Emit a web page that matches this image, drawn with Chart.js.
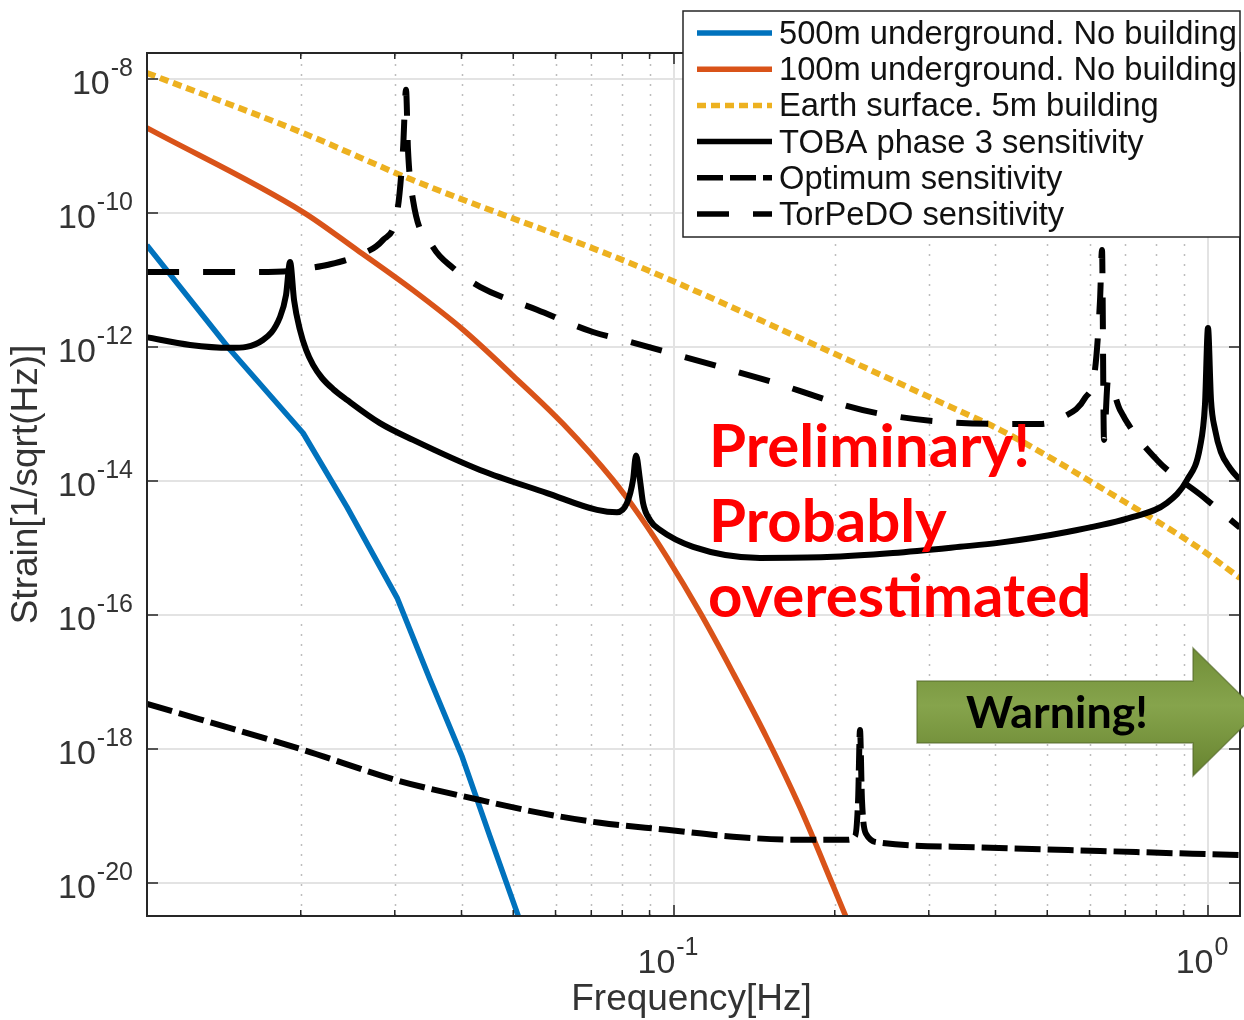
<!DOCTYPE html>
<html>
<head>
<meta charset="utf-8">
<script src="https://cdn.jsdelivr.net/npm/chart.js@4.4.1/dist/chart.umd.min.js"></script>
<style>
  html, body { margin: 0; padding: 0; background: #fff; }
</style>
</head>
<body>
<canvas id="chart" width="1244" height="1020"></canvas>
<script>
// values (Hz, strain 1/sqrt(Hz))
const freq500 = [0.0103, 0.01476, 0.0202, 0.0244, 0.0303, 0.0349, 0.0401, 0.0452, 0.0511, 0.0526];
const strain500 = [3.3e-11, 9.0e-13, 5.2e-14, 4.1e-15, 1.8e-16, 1.1e-17, 7.7e-19, 5.0e-20, 3.2e-21, 1.6e-21];

const freq100 = [0.0103, 0.0202, 0.0255, 0.0324, 0.0403, 0.050, 0.062, 0.0769, 0.0863, 0.097, 0.112, 0.129, 0.149, 0.172, 0.199, 0.2154];
const strain100 = [1.86e-9, 1.03e-10, 2.8e-11, 7.1e-12, 1.8e-12, 3.7e-13, 7.1e-14, 1.03e-14, 3.0e-15, 7.3e-16, 1.07e-16, 1.36e-17, 1.5e-18, 1.36e-19, 8.7e-21, 1.9e-21];

const freqSurface = [0.0103, 0.0202, 0.0324, 0.0863, 0.172, 0.339, 0.408, 0.655, 0.954, 1.148];
const strainSurface = [1.23e-8, 1.56e-9, 3.1e-10, 1.56e-11, 1.36e-12, 1.15e-13, 5.8e-14, 6.6e-15, 1.04e-15, 3.56e-16];

const freqToba = [0.01022, 0.01241, 0.01474, 0.01699, 0.01829, 0.01877, 0.0191, 0.01943, 0.01993, 0.02047,
  0.02109, 0.02192, 0.02298, 0.02441, 0.02814, 0.03245, 0.04332, 0.05784, 0.07176, 0.0782,
  0.08166, 0.0838, 0.08489, 0.08636, 0.0875, 0.0902, 0.09414, 0.1086, 0.1449, 0.1934,
  0.2571, 0.3432, 0.4077, 0.5445, 0.7238, 0.8381, 0.9134, 0.9661, 0.987, 1.0,
  1.013, 1.031, 1.057, 1.099, 1.148];
const strainToba = [1.41e-12, 1.07e-12, 9.7e-13, 1.27e-12, 2.8e-12, 5.97e-12, 1.86e-11, 5.0e-12, 1.8e-12, 9.0e-13,
  5.4e-13, 3.44e-13, 2.36e-13, 1.62e-13, 7.3e-14, 4.1e-14, 1.46e-14, 6.6e-15, 3.7e-15, 3.4e-15,
  4.7e-15, 1.03e-14, 2.4e-14, 1.03e-14, 4.7e-15, 2.6e-15, 1.86e-15, 1.04e-15, 7.1e-16, 7.3e-16,
  8.4e-16, 1.04e-15, 1.2e-15, 1.73e-15, 2.9e-15, 4.7e-15, 1.03e-14, 3.2e-14, 1.36e-13, 1.92e-12,
  1.62e-13, 5.8e-14, 2.7e-14, 1.56e-14, 1.03e-14];

const freqOptimum = [0.01031, 0.0202, 0.0303, 0.0433, 0.0561, 0.0727, 0.0970, 0.1290, 0.1722, 0.2109,
  0.2183, 0.2212, 0.2230, 0.2249, 0.2289, 0.2430, 0.3741, 0.628, 1.148];
const strainOptimum = [4.7e-18, 9.7e-19, 3.4e-19, 1.73e-19, 1.11e-19, 7.9e-20, 6.2e-20, 4.9e-20, 4.4e-20, 4.4e-20,
  5.0e-20, 1.73e-19, 1.92e-18, 1.73e-19, 5.4e-20, 4.0e-20, 3.4e-20, 3.0e-20, 2.6e-20];

const freqTorpedo = [0.01031, 0.01296, 0.01607, 0.0191, 0.02082, 0.02239, 0.02549, 0.02851, 0.03029, 0.03108,
  0.03149, 0.03176, 0.03245, 0.03537, 0.03857, 0.04332, 0.05538, 0.07051, 0.08024, 0.1449,
  0.2399, 0.4077, 0.4847, 0.5354, 0.5884, 0.6142, 0.6278, 0.6332, 0.6386, 0.6497,
  0.6842, 0.8025, 0.9786, 1.148];
const strainTorpedo = [1.31e-11, 1.31e-11, 1.31e-11, 1.36e-11, 1.51e-11, 1.67e-11, 2.28e-11, 3.95e-11, 1.0e-10, 8.7e-10,
  6.9e-9, 8.7e-10, 1.56e-10, 3.1e-11, 1.51e-11, 7.9e-12, 3.6e-12, 1.67e-12, 1.27e-12, 3.4e-13,
  1.03e-13, 7.1e-14, 7.1e-14, 9.0e-14, 1.73e-13, 4.5e-13, 5.0e-12, 2.8e-11, 4.1e-14, 3.2e-13,
  1.15e-13, 2.06e-14, 5.8e-15, 2.0e-15];

const xMajorTicks = [0.1, 1];
const xMinorTicks = [0.02, 0.03, 0.04, 0.05, 0.06, 0.07, 0.08, 0.09, 0.2, 0.3, 0.4, 0.5, 0.6, 0.7, 0.8, 0.9];
const yTicks = [1e-20, 1e-18, 1e-16, 1e-14, 1e-12, 1e-10, 1e-8];

const xMin = 0.010306, xMax = 1.148;
const yMin = 3.21e-21, yMax = 2.44e-8;

const axisColor = '#262626';
const helv = '"Liberation Sans", Arial, Helvetica, sans-serif';

function series(freq, vals) {
  return freq.map((f, i) => ({ x: f, y: vals[i] }));
}

function powLabel(ctx, exp, x, baseY, align) {
  const sup = String(exp);
  ctx.font = '34px ' + helv;
  const wb = ctx.measureText('10').width;
  ctx.font = '25px ' + helv;
  const ws = ctx.measureText(sup).width;
  const total = wb + 1 + ws;
  const left = align === 'right' ? x - total : x - total / 2;
  ctx.textAlign = 'left';
  ctx.textBaseline = 'alphabetic';
  ctx.font = '34px ' + helv;
  ctx.fillText('10', left, baseY);
  ctx.font = '25px ' + helv;
  ctx.fillText(sup, left + wb + 1, baseY - 18);
}

const decor = {
  id: 'decor',
  beforeDatasetsDraw(chart) {
    const { ctx, chartArea: a, scales: { x, y } } = chart;
    ctx.save();
    // minor dotted grid
    ctx.strokeStyle = '#bdbdbd';
    ctx.lineWidth = 1.5;
    ctx.setLineDash([2, 8]);
    xMinorTicks.forEach((v) => {
      const px = Math.round(x.getPixelForValue(v)) + 0.5;
      ctx.beginPath(); ctx.moveTo(px, a.bottom); ctx.lineTo(px, a.top); ctx.stroke();
    });
    ctx.setLineDash([]);
    ctx.strokeStyle = '#e3e3e3';
    ctx.lineWidth = 2;
    xMajorTicks.forEach((v) => {
      const px = Math.round(x.getPixelForValue(v));
      ctx.beginPath(); ctx.moveTo(px, a.bottom); ctx.lineTo(px, a.top); ctx.stroke();
    });
    yTicks.forEach((v) => {
      const py = Math.round(y.getPixelForValue(v));
      ctx.beginPath(); ctx.moveTo(a.left, py); ctx.lineTo(a.right, py); ctx.stroke();
    });
    ctx.restore();
  },
  afterDatasetsDraw(chart) {
    const { ctx, chartArea: a, scales: { x, y } } = chart;
    ctx.save();
    ctx.strokeStyle = axisColor;
    ctx.lineWidth = 2;
    ctx.strokeRect(a.left, a.top, a.right - a.left, a.bottom - a.top);
    ctx.lineWidth = 1.5;
    xMajorTicks.forEach((v) => {
      const px = x.getPixelForValue(v);
      ctx.beginPath();
      ctx.moveTo(px, a.bottom); ctx.lineTo(px, a.bottom - 11);
      ctx.moveTo(px, a.top); ctx.lineTo(px, a.top + 11);
      ctx.stroke();
    });
    xMinorTicks.forEach((v) => {
      const px = x.getPixelForValue(v);
      ctx.beginPath();
      ctx.moveTo(px, a.bottom); ctx.lineTo(px, a.bottom - 6);
      ctx.moveTo(px, a.top); ctx.lineTo(px, a.top + 6);
      ctx.stroke();
    });
    yTicks.forEach((v) => {
      const py = y.getPixelForValue(v);
      ctx.beginPath();
      ctx.moveTo(a.left, py); ctx.lineTo(a.left + 11, py);
      ctx.moveTo(a.right, py); ctx.lineTo(a.right - 11, py);
      ctx.stroke();
    });

    // tick labels
    ctx.fillStyle = '#333';
    yTicks.forEach((v) => {
      const py = y.getPixelForValue(v);
      powLabel(ctx, Math.round(Math.log10(v)), a.left - 14, py + 15, 'right');
    });
    xMajorTicks.forEach((v) => {
      const px = x.getPixelForValue(v);
      powLabel(ctx, Math.round(Math.log10(v)), px - 6, a.bottom + 57, 'center');
    });

    // axis titles
    ctx.font = '37px ' + helv;
    ctx.textAlign = 'center';
    ctx.textBaseline = 'alphabetic';
    ctx.fillText('Frequency[Hz]', (a.left + a.right) / 2 - 2, 1010);
    ctx.save();
    ctx.translate(37, (a.top + a.bottom) / 2);
    ctx.rotate(-Math.PI / 2);
    ctx.fillText('Strain[1/sqrt(Hz)]', 0, 0);
    ctx.restore();
    ctx.restore();
  },
  afterDraw(chart) {
    const { ctx } = chart;
    ctx.save();

    // red note
    ctx.fillStyle = '#ff0000';
    ctx.textAlign = 'left';
    ctx.textBaseline = 'alphabetic';
    ctx.font = 'bold 60px Lato, "Open Sans", sans-serif';
    const w = ctx.measureText('overestimated').width;
    const size = 60 * 383 / w;
    ctx.font = 'bold ' + size.toFixed(1) + 'px Lato, "Open Sans", sans-serif';
    ctx.fillText('Preliminary!', 709, 467);
    ctx.fillText('Probably', 709, 542);
    ctx.fillText('overestimated', 708, 617);

    // warning arrow
    ctx.beginPath();
    ctx.moveTo(917, 681); ctx.lineTo(1193, 681); ctx.lineTo(1193, 648);
    ctx.lineTo(1258, 712); ctx.lineTo(1193, 776); ctx.lineTo(1193, 743);
    ctx.lineTo(917, 743); ctx.closePath();
    const g = ctx.createLinearGradient(0, 648, 0, 776);
    g.addColorStop(0, '#718e38');
    g.addColorStop(0.45, '#86a44c');
    g.addColorStop(1, '#67832f');
    ctx.fillStyle = g;
    ctx.fill();
    ctx.strokeStyle = 'rgba(80,100,40,0.6)';
    ctx.lineWidth = 1.5;
    ctx.stroke();
    ctx.fillStyle = '#000';
    ctx.font = 'bold 60px Lato, "Open Sans", sans-serif';
    const ww = ctx.measureText('Warning!').width;
    ctx.font = 'bold ' + (60 * 182 / ww).toFixed(1) + 'px Lato, "Open Sans", sans-serif';
    ctx.textAlign = 'center';
    ctx.fillText('Warning!', 1057, 728);

    // legend
    ctx.fillStyle = '#fff';
    ctx.fillRect(683, 11, 557, 226);
    ctx.strokeStyle = axisColor;
    ctx.lineWidth = 1.5;
    ctx.strokeRect(683, 11, 557, 226);
    ctx.textAlign = 'left';
    ctx.font = '32.7px ' + helv;
    chart.data.datasets.forEach((ds, i) => {
      const cy = 33 + i * 36.2;
      ctx.strokeStyle = ds.borderColor;
      ctx.lineWidth = Math.min(ds.borderWidth, 5.5);
      ctx.setLineDash(ds.borderDash || []);
      ctx.beginPath(); ctx.moveTo(697, cy); ctx.lineTo(772, cy); ctx.stroke();
      ctx.setLineDash([]);
      ctx.fillStyle = '#111';
      ctx.fillText(ds.label, 779, cy + 11);
    });
    ctx.restore();
  },
};

new Chart(document.getElementById('chart'), {
  type: 'line',
  data: {
    datasets: [
      { label: '500m underground. No building', data: series(freq500, strain500),
        borderColor: '#0072BD', borderWidth: 5.5, tension: 0, order: 6 },
      { label: '100m underground. No building', data: series(freq100, strain100),
        borderColor: '#D95319', borderWidth: 5.5, cubicInterpolationMode: 'monotone', order: 5 },
      { label: 'Earth surface. 5m building', data: series(freqSurface, strainSurface),
        borderColor: '#EDB120', borderWidth: 6, borderDash: [9, 5], cubicInterpolationMode: 'monotone', order: 4 },
      { label: 'TOBA phase 3 sensitivity', data: series(freqToba, strainToba),
        borderColor: '#000000', borderWidth: 6, cubicInterpolationMode: 'monotone', order: 3 },
      { label: 'Optimum sensitivity', data: series(freqOptimum, strainOptimum),
        borderColor: '#000000', borderWidth: 6, borderDash: [26, 7], cubicInterpolationMode: 'monotone', order: 2 },
      { label: 'TorPeDO sensitivity', data: series(freqTorpedo, strainTorpedo),
        borderColor: '#000000', borderWidth: 6, borderDash: [32, 24], cubicInterpolationMode: 'monotone', order: 1 },
    ],
  },
  options: {
    responsive: false,
    animation: false,
    devicePixelRatio: 1,
    layout: { padding: { top: 53, right: 4, left: 0, bottom: 0 } },
    elements: {
      point: { radius: 0 },
      line: { borderJoinStyle: 'round', fill: false },
    },
    datasets: { line: { clip: 0 } },
    plugins: { legend: { display: false }, tooltip: { enabled: false } },
    scales: {
      x: {
        type: 'logarithmic', min: xMin, max: xMax,
        ticks: { display: false }, grid: { display: false }, border: { display: false },
        afterFit(s) { s.height = 104; },
      },
      y: {
        type: 'logarithmic', min: yMin, max: yMax,
        ticks: { display: false }, grid: { display: false }, border: { display: false },
        afterFit(s) { s.width = 147; },
      },
    },
  },
  plugins: [decor],
});
</script>
</body>
</html>
